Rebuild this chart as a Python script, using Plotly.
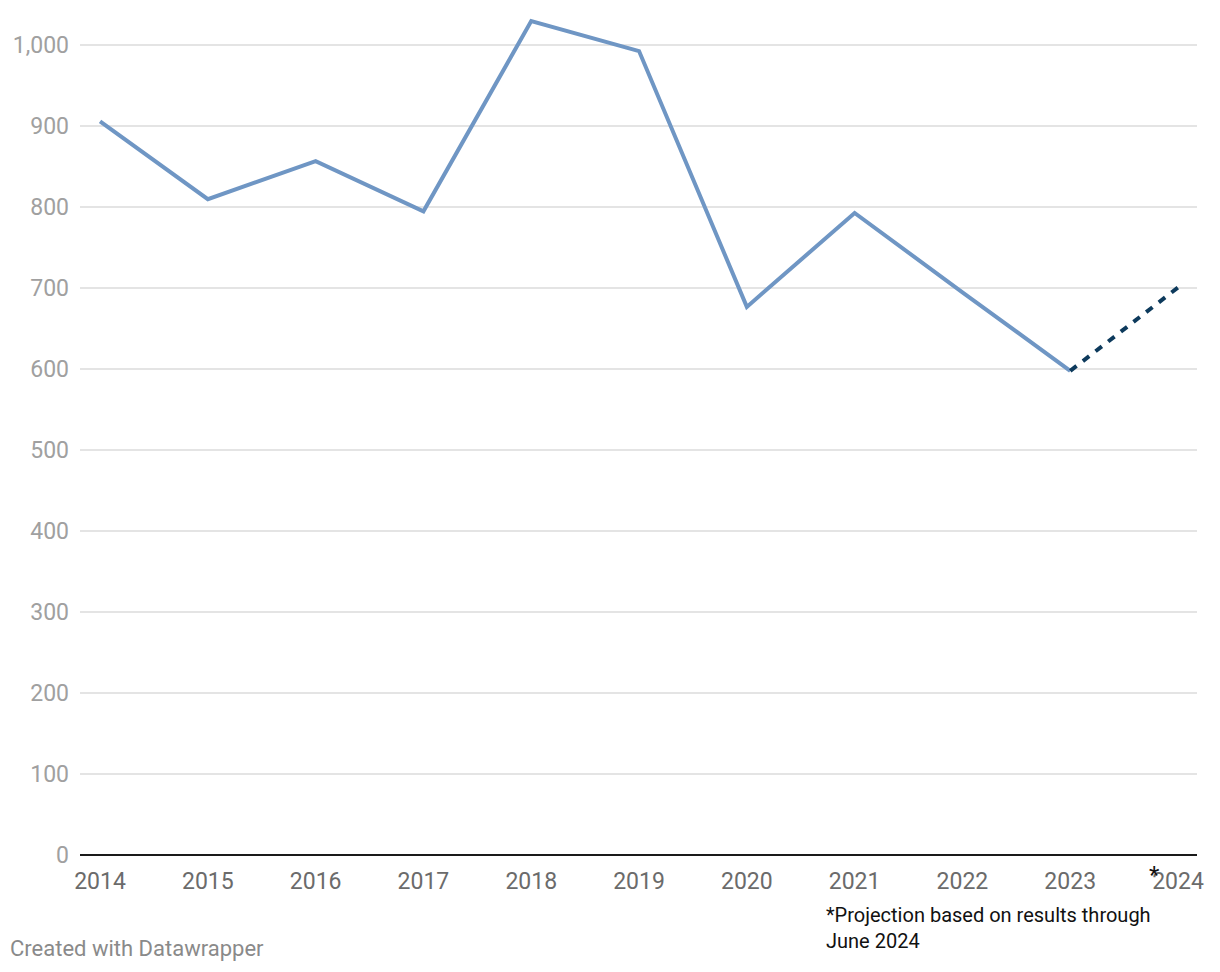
import plotly.graph_objects as go

years = [2014, 2015, 2016, 2017, 2018, 2019, 2020, 2021, 2022, 2023]
values = [906, 810, 857, 795, 1030, 993, 677, 793, 695, 598]
proj_years = [2023, 2024]
proj_values = [598, 701]
x_ticks = list(range(2014, 2025))
x_labels = [str(y) for y in x_ticks]
y_ticks = [0, 100, 200, 300, 400, 500, 600, 700, 800, 900, 1000]
y_labels = ["0", "100", "200", "300", "400", "500", "600", "700", "800", "900", "1,000"]

W, H = 1220, 972
ML, MR, MT, MB = 80, 23, 13, 117
plot_l, plot_r, plot_t, plot_b = ML, W - MR, MT, H - MB
pw, ph = plot_r - plot_l, plot_b - plot_t

def px(x):
    return (x - plot_l) / pw

def py(y):
    return (plot_b - y) / ph

fig = go.Figure()
fig.add_trace(go.Scatter(x=years, y=values, mode="lines",
                         line=dict(color="#6f96c4", width=4), hoverinfo="skip"))
fig.add_trace(go.Scatter(x=proj_years, y=proj_values, mode="lines",
                         line=dict(color="#0d3a5c", width=4, dash="8px,8px"), hoverinfo="skip"))

fig.update_layout(
    width=W, height=H,
    margin=dict(l=ML, r=MR, t=MT, b=MB),
    paper_bgcolor="white", plot_bgcolor="white",
    showlegend=False,
    font=dict(family="Roboto", size=20, color="#666666"),
    xaxis=dict(range=[2013.814, 2024.176], tickmode="array", tickvals=x_ticks, ticktext=x_labels,
               showgrid=False, zeroline=False, showline=False, ticks="",
               tickfont=dict(family="Roboto", size=23, color="#6b6b6b"), ticklabelstandoff=10),
    yaxis=dict(range=[0, 1040], tickmode="array", tickvals=y_ticks, ticktext=y_labels,
               showgrid=True, gridcolor="#e4e4e4", gridwidth=1.5,
               zeroline=True, zerolinecolor="#1a1a1a", zerolinewidth=2,
               showline=False, ticks="",
               tickfont=dict(family="Roboto", size=23, color="#a0a0a0"), ticklabelstandoff=10),
    annotations=[
        dict(text="*", x=px(1154), y=py(875), xref="paper", yref="paper", showarrow=False,
             xanchor="center", yanchor="middle",
             font=dict(family="Roboto", size=24, color="#111111")),
        dict(text="*Projection based on results through<br>June 2024", x=px(824), y=py(901),
             xref="paper", yref="paper",
             xanchor="left", yanchor="top", showarrow=False, align="left",
             font=dict(family="Roboto", size=20, color="#111111")),
        dict(text="Created with Datawrapper", x=px(8), y=py(948), xref="paper", yref="paper",
             xanchor="left", yanchor="middle",
             showarrow=False, font=dict(family="Roboto", size=22, color="#8a8a8a")),
    ],
)

fig.write_html("out.html")
